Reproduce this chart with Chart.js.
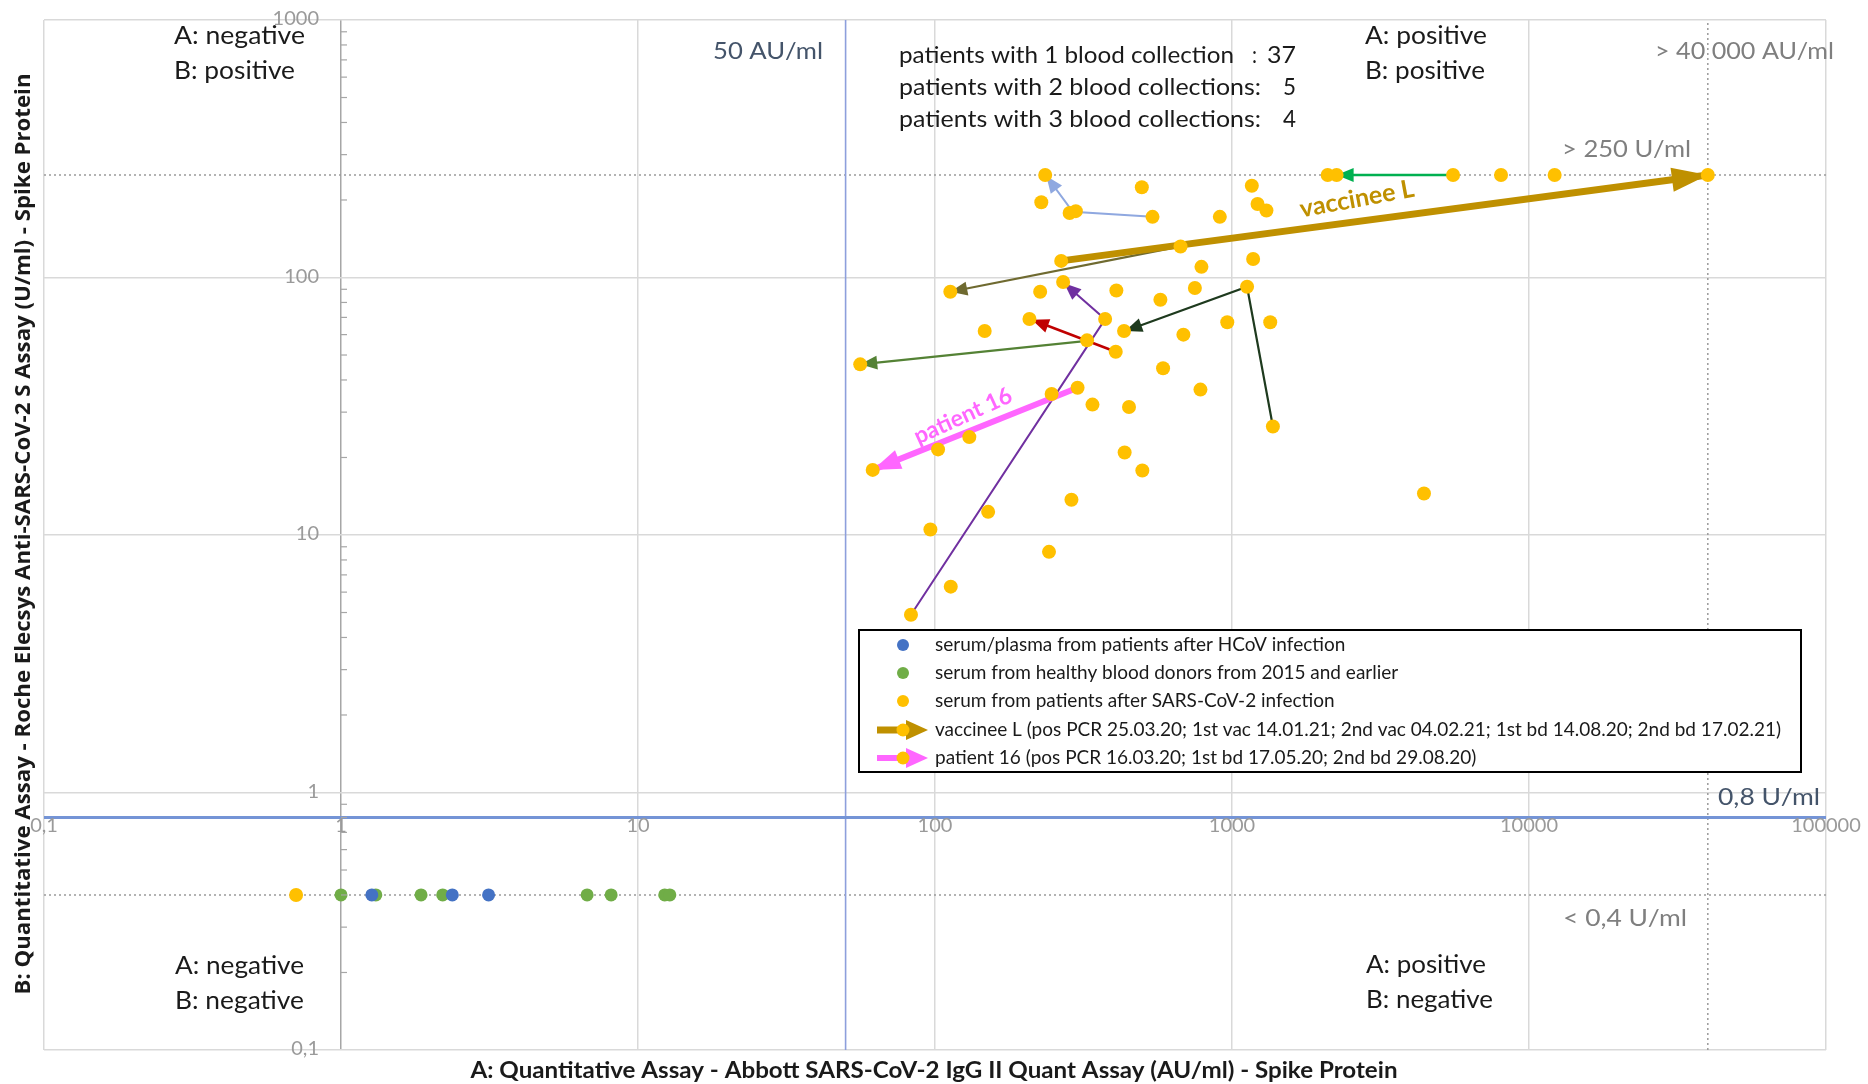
<!DOCTYPE html>
<html>
<head>
<meta charset="utf-8">
<title>Abbott IgG II Quant vs Roche Elecsys S</title>
<script src="https://cdn.jsdelivr.net/npm/chart.js@4.4.1/dist/chart.umd.min.js"></script>
<style>
  html, body { margin: 0; padding: 0; background: #fff; }
  #wrap { width: 1868px; height: 1084px; }
</style>
</head>
<body>
<div id="wrap"><canvas id="chart" width="1868" height="1084"></canvas></div>
<script>
// axis ticks (comma decimals like the original)
const xTickValues = [0.1, 1, 10, 100, 1000, 10000, 100000];
const xTickLabels = ['0,1', '1', '10', '100', '1000', '10000', '100000'];
const yTickValues = [0.1, 1, 10, 100, 1000];
const yTickLabels = ['0,1', '1', '10', '100', '1000'];

// cut-offs / measuring limits
const abbottCutoff = 50;      // AU/ml
const abbottUpper = 40000;    // AU/ml
const rocheCutoff = 0.8;      // U/ml
const rocheUpper = 250;       // U/ml
const rocheLower = 0.4;       // U/ml

// serum/plasma after HCoV infection
const hcovX = [1.27, 2.37, 3.14];
const hcovY = [0.4, 0.4, 0.4];

// healthy blood donors 2015 and earlier
const donorX = [1.0, 1.31, 1.86, 2.2, 6.74, 8.12, 12.3, 12.8];
const donorY = [0.4, 0.4, 0.4, 0.4, 0.4, 0.4, 0.4, 0.4];

// patients after SARS-CoV-2 infection
const covidX = [235, 2100, 2250, 5550, 8050, 12200, 40000,
  228, 284, 298, 540, 497, 910, 1166, 1219, 1306,
  671, 789, 1178, 266,
  112.6, 226, 270, 408, 574, 750, 1124,
  208, 374, 147, 433, 686, 964, 1345,
  325, 406, 56, 586, 783,
  247, 302, 339, 450, 1373,
  130.5, 102.4, 61.7, 435, 499,
  288, 151, 96.5, 242, 113, 83,
  4430, 0.706];
const covidY = [250, 250, 250, 250, 250, 250, 250,
  196, 178, 181, 172, 224, 172, 227, 193, 182,
  132, 110, 118, 116,
  88, 88, 96, 89, 82, 91, 92,
  69, 69, 62, 62, 60, 67, 67,
  57, 51.5, 46, 44.4, 36.7,
  35.3, 37.3, 32.1, 31.4, 26.4,
  24, 21.5, 17.9, 20.9, 17.8,
  13.7, 12.3, 10.5, 8.6, 6.3, 4.9,
  14.5, 0.4];

// follow-up samples of the same person (arrows)
const vaccineeLX = [266, 40000];
const vaccineeLY = [116, 250];
const patient16X = [302, 61.7];
const patient16Y = [37.3, 17.9];
const greenArrowX = [5550, 2250];
const greenArrowY = [250, 250];
const oliveArrowX = [671, 112.6];
const oliveArrowY = [132, 88];
const mossArrowX = [325, 56];
const mossArrowY = [56.7, 46];
const redArrowX = [406, 212];
const redArrowY = [51.5, 68.5];
const purpleArrowX = [83, 374, 272];
const purpleArrowY = [4.9, 68.9, 95];
const darkArrowX = [1373, 1124, 437];
const darkArrowY = [26.4, 92, 62];
const blueArrowX = [540, 291, 237];
const blueArrowY = [172, 180, 248];

const legendLabels = [
  'serum/plasma from patients after HCoV infection',
  'serum from healthy blood donors from 2015 and earlier',
  'serum from patients after SARS-CoV-2 infection',
  'vaccinee L (pos PCR 25.03.20; 1st vac 14.01.21; 2nd vac 04.02.21; 1st bd 14.08.20; 2nd bd 17.02.21)',
  'patient 16 (pos PCR 16.03.20; 1st bd 17.05.20; 2nd bd 29.08.20)'
];

const FONT = 'Lato, "Open Sans", sans-serif';
const YELLOW = '#FFC000';
const GOLD = '#BF9000';
const PINK = '#FF66FF';

const zip = (xs, ys) => xs.map((x, i) => ({ x: x, y: ys[i] }));

function points(label, xs, ys, color, r) {
  return {
    type: 'scatter', label: label, data: zip(xs, ys),
    backgroundColor: color, borderColor: color, borderWidth: 0,
    pointRadius: r, pointHoverRadius: r
  };
}
function arrow(label, xs, ys, color, width, head) {
  return {
    type: 'line', label: label, data: zip(xs, ys),
    borderColor: color, backgroundColor: color, borderWidth: width,
    pointRadius: 0, fill: false, tension: 0, arrowHead: head
  };
}
function refLine(label, xs, ys, color, width, dash) {
  return {
    type: 'line', label: label, data: zip(xs, ys),
    borderColor: color, borderWidth: width, borderDash: dash || [],
    pointRadius: 0, fill: false, tension: 0
  };
}

// free texts on the plot (pixel layout, w = width the text is fitted to)
const notes = [
  { text: 'A: negative', x: 174, y: 36, w: 131 },
  { text: 'B: positive', x: 174, y: 71, w: 121 },
  { text: 'A: positive', x: 1365, y: 36, w: 122 },
  { text: 'B: positive', x: 1365, y: 71, w: 120 },
  { text: 'A: negative', x: 175, y: 966, w: 129 },
  { text: 'B: negative', x: 175, y: 1001, w: 129 },
  { text: 'A: positive', x: 1366, y: 965, w: 120 },
  { text: 'B: negative', x: 1366, y: 1000, w: 127 },
  { text: '50 AU/ml', x: 713, y: 51, w: 110, size: 24, color: '#44546A' },
  { text: '0,8 U/ml', x: 1718, y: 797, w: 102, size: 24, color: '#44546A' },
  { text: '> 40 000 AU/ml', x: 1655, y: 51, w: 179, size: 24, color: '#7F7F7F' },
  { text: '> 250 U/ml', x: 1562, y: 149, w: 129, size: 24, color: '#7F7F7F' },
  { text: '< 0,4 U/ml', x: 1563, y: 918, w: 124, size: 24, color: '#7F7F7F' },
  { text: 'patients with 1 blood collection', x: 899, y: 55, w: 335, size: 24 },
  { text: ':', x: 1252, y: 55, w: 5, size: 24 },
  { text: '37', x: 1267, y: 55, w: 29, size: 24 },
  { text: 'patients with 2 blood collections:', x: 899, y: 87, w: 362, size: 24 },
  { text: '5', x: 1283, y: 87, w: 13, size: 24 },
  { text: 'patients with 3 blood collections:', x: 899, y: 119, w: 362, size: 24 },
  { text: '4', x: 1283, y: 119, w: 13, size: 24 }
];

// draw text stretched/squeezed horizontally to an exact width
function fitText(ctx, text, x, y, w, align) {
  const m = ctx.measureText(text).width;
  ctx.save();
  ctx.translate(x, y);
  ctx.scale(w / m, 1);
  ctx.textAlign = align || 'left';
  ctx.fillText(text, 0, 0);
  ctx.restore();
}

const arrowHeads = {
  id: 'arrowHeads',
  afterDatasetDraw(chart, args) {
    const ds = chart.data.datasets[args.index];
    if (!ds.arrowHead) return;
    const pts = args.meta.data;
    const a = pts[pts.length - 2], b = pts[pts.length - 1];
    const ang = Math.atan2(b.y - a.y, b.x - a.x);
    const len = ds.arrowHead[0], half = ds.arrowHead[1];
    const ctx = chart.ctx;
    ctx.save();
    ctx.translate(b.x, b.y);
    ctx.rotate(ang);
    ctx.beginPath();
    ctx.moveTo(0, 0);
    ctx.lineTo(-len, -half);
    ctx.lineTo(-len, half);
    ctx.closePath();
    ctx.fillStyle = ds.borderColor;
    ctx.fill();
    ctx.restore();
  }
};

const decorations = {
  id: 'decorations',
  beforeDraw(chart) {
    const ctx = chart.ctx;
    ctx.save();
    ctx.fillStyle = '#fff';
    ctx.fillRect(0, 0, chart.width, chart.height);
    ctx.restore();
  },
  beforeDatasetsDraw(chart) {
    const ctx = chart.ctx;
    ctx.save();
    ctx.textBaseline = 'middle';
    notes.forEach(t => {
      ctx.font = (t.size || 25) + 'px ' + FONT;
      ctx.fillStyle = t.color || '#1a1a1a';
      fitText(ctx, t.text, t.x, t.y, t.w);
    });
    ctx.restore();
  },
  afterDatasetsDraw(chart) {
    const ctx = chart.ctx;
    const xs = chart.scales.x, ys = chart.scales.y;
    ctx.save();

    // minor ticks on the vertical axis (crosses at x = 1)
    const ax = xs.getPixelForValue(1);
    ctx.strokeStyle = '#A6A6A6';
    ctx.lineWidth = 1.2;
    for (let d = 0.1; d < 1000; d *= 10) {
      for (let m = 2; m <= 9; m++) {
        const py = ys.getPixelForValue(d * m);
        ctx.beginPath(); ctx.moveTo(ax, py); ctx.lineTo(ax + 6, py); ctx.stroke();
      }
    }

    // tick labels where Excel put them: along x = 1 and y = 0,8
    ctx.font = '20px ' + FONT;
    ctx.fillStyle = '#9A9A9A';
    ctx.textBaseline = 'middle';
    ctx.textAlign = 'center';
    const ly = ys.getPixelForValue(rocheCutoff) + 8;
    xTickValues.forEach((v, i) => ctx.fillText(xTickLabels[i], xs.getPixelForValue(v), ly));
    ctx.textAlign = 'right';
    yTickValues.forEach((v, i) => ctx.fillText(yTickLabels[i], ax - 22, ys.getPixelForValue(v) - 1));

    // rotated arrow captions
    ctx.font = 'bold 25px ' + FONT;
    ctx.fillStyle = GOLD;
    ctx.textAlign = 'center';
    ctx.save();
    ctx.translate(1357, 199); ctx.rotate(-10.5 * Math.PI / 180);
    ctx.fillText('vaccinee L', 0, 0, 124);
    ctx.restore();
    ctx.font = 'bold 23px ' + FONT;
    ctx.fillStyle = PINK;
    ctx.save();
    ctx.translate(963, 416); ctx.rotate(-24.5 * Math.PI / 180);
    ctx.fillText('patient 16', 0, 0, 124);
    ctx.restore();

    // axis titles
    ctx.fillStyle = '#1a1a1a';
    ctx.font = 'bold 23px ' + FONT;
    fitText(ctx, 'A: Quantitative Assay - Abbott SARS-CoV-2 IgG II Quant Assay (AU/ml) - Spike Protein', 934, 1071, 927, 'center');
    ctx.save();
    ctx.translate(24, 534); ctx.rotate(-Math.PI / 2);
    ctx.font = 'bold 21px "Open Sans", sans-serif';
    fitText(ctx, 'B: Quantitative Assay - Roche Elecsys Anti-SARS-CoV-2 S Assay (U/ml) - Spike Protein', 0, 0, 921, 'center');
    ctx.restore();

    // legend box
    const bx = 859, by = 630, bw = 942, bh = 142;
    ctx.fillStyle = '#fff';
    ctx.fillRect(bx, by, bw, bh);
    ctx.strokeStyle = '#000';
    ctx.lineWidth = 2;
    ctx.strokeRect(bx, by, bw, bh);
    const rowY = [645, 673, 701, 730, 758];
    const markX = 903;
    [ '#4472C4', '#70AD47', YELLOW ].forEach((c, i) => {
      ctx.fillStyle = c;
      ctx.beginPath(); ctx.arc(markX, rowY[i], 6, 0, Math.PI * 2); ctx.fill();
    });
    [[GOLD, 7], [PINK, 6]].forEach((s, k) => {
      const y = rowY[3 + k];
      ctx.strokeStyle = s[0]; ctx.fillStyle = s[0];
      ctx.lineWidth = s[1];
      ctx.beginPath(); ctx.moveTo(877, y); ctx.lineTo(912, y); ctx.stroke();
      ctx.beginPath(); ctx.moveTo(928, y); ctx.lineTo(906, y - 10); ctx.lineTo(906, y + 10); ctx.closePath(); ctx.fill();
      ctx.fillStyle = YELLOW;
      ctx.beginPath(); ctx.arc(markX, y, 6.5, 0, Math.PI * 2); ctx.fill();
    });
    ctx.font = '20px ' + FONT;
    ctx.fillStyle = '#1a1a1a';
    ctx.textAlign = 'left';
    const sx = 846 / ctx.measureText(legendLabels[3]).width;
    legendLabels.forEach((s, i) => {
      ctx.save();
      ctx.translate(935, rowY[i]);
      ctx.scale(sx, 1);
      ctx.fillText(s, 0, 0);
      ctx.restore();
    });
    ctx.restore();
  }
};

const xMin = 0.1, xMax = 100000, yMin = 0.1, yMax = 1000;

const datasets = [
  points('serum/plasma from patients after HCoV infection', hcovX, hcovY, '#4472C4', 6.5),
  points('serum from healthy blood donors from 2015 and earlier', donorX, donorY, '#70AD47', 6.5),
  points('serum from patients after SARS-CoV-2 infection', covidX, covidY, YELLOW, 7),
  arrow('vaccinee L', vaccineeLX, vaccineeLY, GOLD, 7, [36, 12]),
  arrow('patient 16', patient16X, patient16Y, PINK, 6, [28, 10]),
  arrow('green', greenArrowX, greenArrowY, '#00B050', 2.5, [17, 7]),
  arrow('olive', oliveArrowX, oliveArrowY, '#6F6A30', 2.2, [17, 7]),
  arrow('moss', mossArrowX, mossArrowY, '#548235', 2.2, [17, 7]),
  arrow('red', redArrowX, redArrowY, '#C00000', 2.6, [17, 7]),
  arrow('purple', purpleArrowX, purpleArrowY, '#7030A0', 2, [17, 7]),
  arrow('dark', darkArrowX, darkArrowY, '#1E3A1E', 2.2, [17, 7]),
  arrow('light blue', blueArrowX, blueArrowY, '#8FA8E0', 2, [17, 7]),
  refLine('0,8 U/ml', [xMin, xMax], [rocheCutoff, rocheCutoff], '#7494D6', 3),
  refLine('50 AU/ml', [abbottCutoff, abbottCutoff], [yMin, yMax], '#8D9FDC', 1.6),
  refLine('250 U/ml', [xMin, xMax], [rocheUpper, rocheUpper], '#9A9A9A', 1.5, [2, 3]),
  refLine('0,4 U/ml', [xMin, xMax], [rocheLower, rocheLower], '#9A9A9A', 1.5, [2, 3]),
  refLine('40000 AU/ml', [abbottUpper, abbottUpper], [yMin, yMax], '#9A9A9A', 1.5, [2, 3])
];

const gridColor = c => (c.tick && c.tick.value === 1 ? '#A6A6A6' : '#D9D9D9');

new Chart(document.getElementById('chart').getContext('2d'), {
  type: 'scatter',
  data: { datasets: datasets },
  options: {
    responsive: false,
    animation: false,
    devicePixelRatio: 1,
    layout: { padding: { left: 44, top: 20, right: 42, bottom: 34 } },
    plugins: { legend: { display: false }, tooltip: { enabled: false } },
    scales: {
      x: {
        type: 'logarithmic', min: xMin, max: xMax, position: 'bottom',
        afterBuildTicks: s => { s.ticks = xTickValues.map(v => ({ value: v })); },
        ticks: { display: false },
        grid: { color: gridColor, lineWidth: 1.5, drawTicks: false },
        border: { display: false }
      },
      y: {
        type: 'logarithmic', min: yMin, max: yMax, position: 'left',
        afterBuildTicks: s => { s.ticks = yTickValues.map(v => ({ value: v })); },
        ticks: { display: false },
        grid: { color: '#D9D9D9', lineWidth: 1.5, drawTicks: false },
        border: { display: false }
      }
    }
  },
  plugins: [arrowHeads, decorations]
});
</script>
</body>
</html>
